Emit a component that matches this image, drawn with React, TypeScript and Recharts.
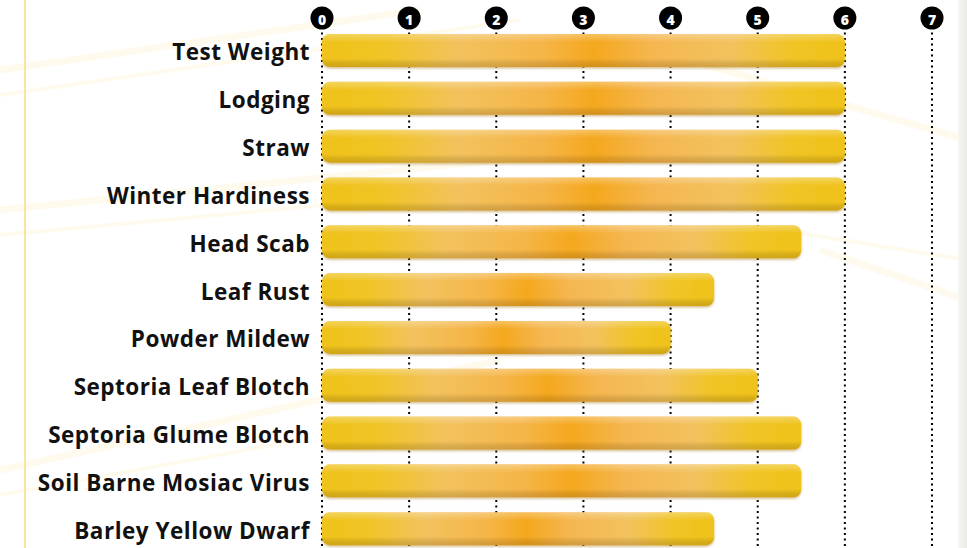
import React from "react";
import { BarChart, Bar, XAxis, YAxis, CartesianGrid } from "recharts";

const traits = [
  "Test Weight",
  "Lodging",
  "Straw",
  "Winter Hardiness",
  "Head Scab",
  "Leaf Rust",
  "Powder Mildew",
  "Septoria Leaf Blotch",
  "Septoria Glume Blotch",
  "Soil Barne Mosiac Virus",
  "Barley Yellow Dwarf",
];
const ratings = [6, 6, 6, 6, 5.5, 4.5, 4, 5, 5.5, 5.5, 4.5];
const scaleTicks = [0, 1, 2, 3, 4, 5, 6, 7];

const data = traits.map((name, i) => ({ name, value: ratings[i] }));

function CircleTick(props: any) {
  const { x, y, payload } = props;
  return (
    <g>
      <circle cx={x} cy={y - 9} r={11.5} fill="#000" />
      <text
        x={x}
        y={y - 8}
        textAnchor="middle"
        dominantBaseline="central"
        fill="#fff"
        fontFamily="'Open Sans', sans-serif"
        fontWeight={800}
        fontSize={14}
      >
        {payload.value}
      </text>
    </g>
  );
}

function LabelTick(props: any) {
  const { x, y, payload } = props;
  return (
    <text
      x={x - 12}
      y={y + 1}
      textAnchor="end"
      dominantBaseline="central"
      fill="#111"
      fontFamily="'Open Sans', sans-serif"
      fontWeight={700}
      fontSize={22.5}
      letterSpacing={0.5}
    >
      {payload.value}
    </text>
  );
}

function GoldBar(props: any) {
  const { x, y, width, height } = props;
  if (!width) return null;
  return (
    <g filter="url(#barShadow)">
      <rect x={x} y={y} width={width} height={height} rx={8} fill="url(#barGrad)" />
      <rect x={x} y={y} width={width} height={height} rx={8} fill="url(#barShade)" />
    </g>
  );
}

// faint sunburst rays behind the chart (decoration only)
const rays = [
  "M0,70 L420,10",
  "M0,95 L520,20",
  "M0,210 L600,150",
  "M0,235 L380,200",
  "M0,470 L500,360",
  "M0,495 L300,440",
  "M967,140 L620,40",
  "M967,260 L780,230",
  "M967,300 L820,250",
];

export default function App() {
  return (
    <div
      style={{
        position: "absolute",
        top: 0,
        left: 0,
        width: 967,
        height: 548,
        overflow: "hidden",
        background: "#fff",
      }}
    >
      <svg width={967} height={548} style={{ position: "absolute", top: 0, left: 0 }}>
        {rays.map((d, i) => (
          <path key={i} d={d} stroke="#fdf3d6" strokeWidth={i % 2 ? 4 : 7} opacity={0.45} fill="none" />
        ))}
        <line x1={25} y1={0} x2={25} y2={548} stroke="#fbe3a0" strokeWidth={2} />
      </svg>
      <div
        style={{
          position: "absolute",
          top: 0,
          left: 958,
          width: 9,
          height: 548,
          background: "linear-gradient(to right, #f6f6f2, #eaeae6)",
        }}
      />
      <div style={{ position: "absolute", top: 0, left: 0 }}>
        <BarChart
          layout="vertical"
          width={967}
          height={553}
          data={data}
          margin={{ top: 0, right: 35, left: 0, bottom: 0 }}
        >
          <defs>
            <linearGradient id="barGrad" x1="0" y1="0" x2="1" y2="0">
              <stop offset="0%" stopColor="#efc21a" />
              <stop offset="12%" stopColor="#f0c426" />
              <stop offset="26%" stopColor="#f2c25e" />
              <stop offset="42%" stopColor="#f5b548" />
              <stop offset="52%" stopColor="#f4a81e" />
              <stop offset="63%" stopColor="#f5b650" />
              <stop offset="78%" stopColor="#f2c25e" />
              <stop offset="90%" stopColor="#f0c424" />
              <stop offset="100%" stopColor="#efc21a" />
            </linearGradient>
            <linearGradient id="barShade" x1="0" y1="0" x2="0" y2="1">
              <stop offset="0%" stopColor="#fff" stopOpacity={0.3} />
              <stop offset="25%" stopColor="#fff" stopOpacity={0} />
              <stop offset="75%" stopColor="#000" stopOpacity={0} />
              <stop offset="100%" stopColor="#7a4a00" stopOpacity={0.25} />
            </linearGradient>
            <filter id="barShadow" x="-5%" y="-20%" width="110%" height="150%">
              <feDropShadow dx={0} dy={1.5} stdDeviation={1} floodColor="#a07000" floodOpacity={0.45} />
            </filter>
          </defs>
          <CartesianGrid
            horizontal={false}
            stroke="#000"
            strokeWidth={2}
            strokeDasharray="2 3.5"
          />
          <XAxis
            type="number"
            orientation="top"
            domain={[0, 7]}
            ticks={scaleTicks}
            height={27}
            axisLine={false}
            tickLine={false}
            tickSize={0}
            tickMargin={0}
            tick={<CircleTick />}
            interval={0}
          />
          <YAxis
            type="category"
            dataKey="name"
            width={322}
            axisLine={false}
            tickLine={false}
            tickSize={0}
            tickMargin={0}
            tick={<LabelTick />}
            interval={0}
          />
          <Bar dataKey="value" barSize={33} shape={<GoldBar />} isAnimationActive={false} />
        </BarChart>
      </div>
    </div>
  );
}
